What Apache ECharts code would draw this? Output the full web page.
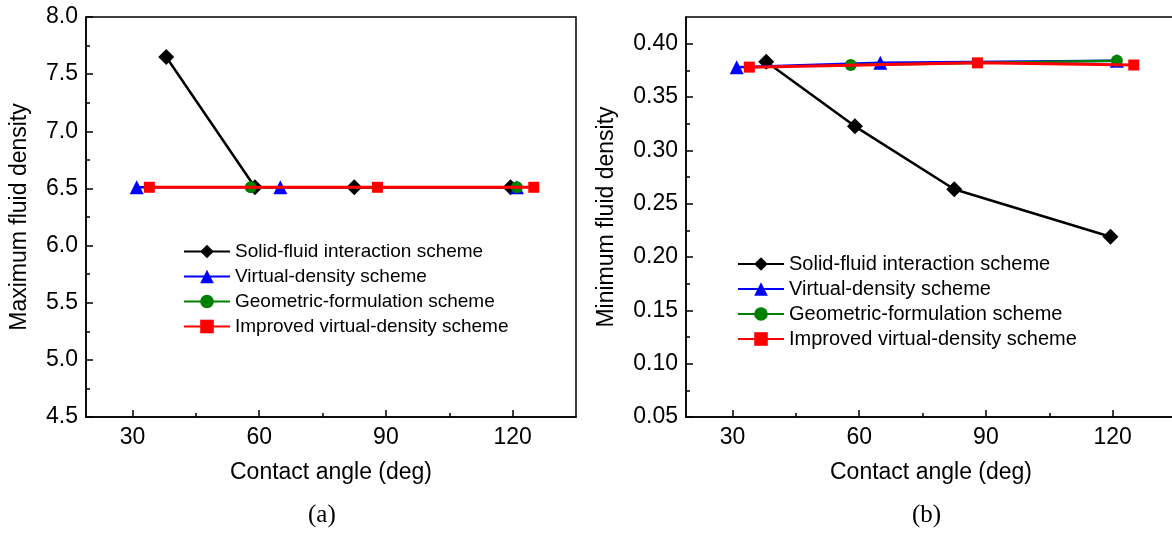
<!DOCTYPE html>
<html>
<head>
<meta charset="utf-8">
<script src="https://cdn.jsdelivr.net/npm/echarts@6/dist/echarts.min.js"></script>
<style>html,body{margin:0;padding:0;background:#fff}#c{width:1172px;height:535px}</style>
</head>
<body>
<div id="c"></div>
<script>
// ---- data ----
const seriesNames = ['Solid-fluid interaction scheme','Virtual-density scheme','Geometric-formulation scheme','Improved virtual-density scheme'];
const xSolid = [38, 59, 82.5, 119.5];
const ySolidMax = [7.65, 6.51, 6.51, 6.51];
const ySolidMin = [0.383, 0.3225, 0.2635, 0.219];
const xVirtual = [31, 65, 121];
const yVirtualMax = [6.51, 6.51, 6.51];
const yVirtualMin = [0.378, 0.382, 0.384];
const xGeo = [58, 121];
const yGeoMax = [6.51, 6.51];
const yGeoMin = [0.380, 0.384];
const xImp = [34, 88, 125];
const yImpMax = [6.51, 6.51, 6.51];
const yImpMin = [0.378, 0.382, 0.380];
const xTickLabels = [30, 60, 90, 120];
const xMinorTicks = [45, 75, 105];
const yTicksMax = [4.5, 5.0, 5.5, 6.0, 6.5, 7.0, 7.5, 8.0];
const yMinorMax = [4.75, 5.25, 5.75, 6.25, 6.75, 7.25, 7.75];
const yTicksMin = [0.05, 0.10, 0.15, 0.20, 0.25, 0.30, 0.35, 0.40];
const yMinorMin = [0.075, 0.125, 0.175, 0.225, 0.275, 0.325, 0.375];

const FONT = 'Liberation Sans, Arial, sans-serif';
const pairs = (xs, ys) => xs.map((x, i) => [x, ys[i]]);

const styles = [
  {color: '#000000', symbol: 'diamond', size: 16, width: 2.5},
  {color: '#0000ff', symbol: 'triangle', size: 14, width: 2.5},
  {color: '#008000', symbol: 'circle', size: 12, width: 2.5},
  {color: '#ff0000', symbol: 'rect', size: 11, width: 3}
];

function mkSeries(gi, xsList, ysList) {
  return xsList.map((xs, k) => ({
    type: 'line', name: seriesNames[k], xAxisIndex: gi * 2, yAxisIndex: gi * 2,
    data: pairs(xs, ysList[k]),
    symbol: styles[k].symbol, symbolSize: styles[k].size,
    lineStyle: {color: styles[k].color, width: styles[k].width},
    itemStyle: {color: styles[k].color},
    emphasis: {disabled: true}, z: 2 + k
  }));
}

function xAxes(gi) {
  return [
    {type: 'value', gridIndex: gi, position: 'bottom', min: 19, max: 135,
     axisLine: {show: true, lineStyle: {color: '#000', width: 1.5}},
     axisTick: {show: true, inside: true, length: 7, customValues: xTickLabels, lineStyle: {color: '#000', width: 1.5}},
     axisLabel: {customValues: xTickLabels, fontSize: 23, color: '#000', fontFamily: FONT, margin: 9},
     splitLine: {show: false},
     name: 'Contact angle (deg)', nameLocation: 'middle', nameGap: 44,
     nameTextStyle: {fontSize: 23, color: '#000', fontFamily: FONT}},
    {type: 'value', gridIndex: gi, position: 'bottom', min: 19, max: 135,
     axisLine: {show: false},
     axisTick: {show: true, inside: true, length: 4, customValues: xMinorTicks, lineStyle: {color: '#000', width: 1.5}},
     axisLabel: {show: false}, splitLine: {show: false}}
  ];
}

function yAxes(gi, min, max, ticks, minors, dec, name, gap) {
  return [
    {type: 'value', gridIndex: gi, position: 'left', min: min, max: max,
     axisLine: {show: true, lineStyle: {color: '#000', width: 1.5}},
     axisTick: {show: true, inside: true, length: 7, customValues: ticks, lineStyle: {color: '#000', width: 1.5}},
     axisLabel: {customValues: ticks, fontSize: 23, color: '#000', fontFamily: FONT, margin: 8,
                 formatter: v => Number(v).toFixed(dec)},
     splitLine: {show: false},
     name: name, nameLocation: 'middle', nameGap: gap,
     nameTextStyle: {fontSize: 23, color: '#000', fontFamily: FONT}},
    {type: 'value', gridIndex: gi, position: 'left', min: min, max: max,
     axisLine: {show: false},
     axisTick: {show: true, inside: true, length: 4, customValues: minors, lineStyle: {color: '#000', width: 1.5}},
     axisLabel: {show: false}, splitLine: {show: false}}
  ];
}

const chart = echarts.init(document.getElementById('c'), null, {renderer: 'canvas'});
chart.setOption({
  animation: false,
  backgroundColor: '#fff',
  textStyle: {fontFamily: FONT},
  grid: [
    {left: 86, top: 17, width: 490, height: 400, outerBoundsMode: 'none', containLabel: false,
     show: true, borderColor: '#000', borderWidth: 1.5, backgroundColor: 'transparent'},
    {left: 686, top: 17, width: 490, height: 400, outerBoundsMode: 'none', containLabel: false,
     show: true, borderColor: '#000', borderWidth: 1.5, backgroundColor: 'transparent'}
  ],
  xAxis: [...xAxes(0), ...xAxes(1)],
  yAxis: [
    ...yAxes(0, 4.5, 8.0, yTicksMax, yMinorMax, 1, 'Maximum fluid density', 55),
    ...yAxes(1, 0.05, 0.425, yTicksMin, yMinorMin, 2, 'Minimum fluid density', 68)
  ],
  legend: [
    {data: seriesNames, orient: 'vertical', left: 183, top: 242, padding: 0, itemWidth: 46, itemHeight: 17, itemGap: 6,
     selectedMode: false, textStyle: {fontSize: 19, color: '#000', fontFamily: FONT}},
    {data: seriesNames, orient: 'vertical', left: 737, top: 254, padding: 0, itemWidth: 46, itemHeight: 17, itemGap: 5,
     selectedMode: false, textStyle: {fontSize: 20, color: '#000', fontFamily: FONT}}
  ],
  graphic: [
    {type: 'text', left: 308, top: 503, style: {text: '(a)', fontSize: 25, fill: '#000', fontFamily: 'Liberation Serif, Times New Roman, serif'}},
    {type: 'text', left: 912, top: 503, style: {text: '(b)', fontSize: 25, fill: '#000', fontFamily: 'Liberation Serif, Times New Roman, serif'}}
  ],
  series: [
    ...mkSeries(0, [xSolid, xVirtual, xGeo, xImp], [ySolidMax, yVirtualMax, yGeoMax, yImpMax]),
    ...mkSeries(1, [xSolid, xVirtual, xGeo, xImp], [ySolidMin, yVirtualMin, yGeoMin, yImpMin])
  ]
});
</script>
</body>
</html>
